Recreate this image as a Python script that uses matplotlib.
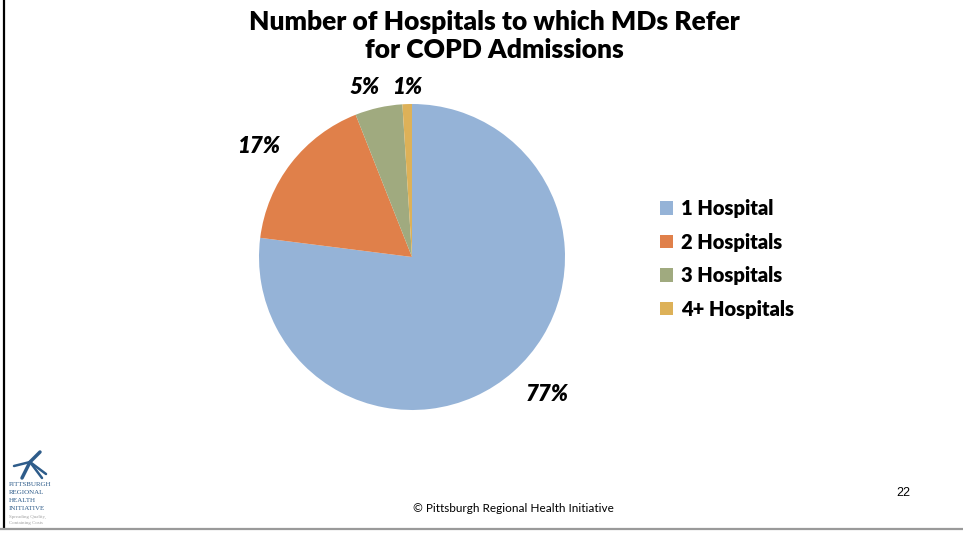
import matplotlib
matplotlib.use("Agg")
import matplotlib.pyplot as plt
from matplotlib.lines import Line2D
from matplotlib.patches import Patch
import numpy as np

# data
categories = ["1 Hospital", "2 Hospitals", "3 Hospitals", "4+ Hospitals"]
shares = [77, 17, 5, 1]
pct_labels = ["77%", "17%", "5%", "1%"]
colors = ["#95B3D7", "#E0804A", "#A0AA7F", "#DDB158"]

title = "Number of Hospitals to which MDs Refer\nfor COPD Admissions"
footer = "\u00a9 Pittsburgh Regional Health Initiative"
page_no = "22"

W, H = 963, 533
fig = plt.figure(figsize=(W / 100, H / 100), dpi=100)
fig.patch.set_facecolor("white")

# pie axes: centre (412, 257) px, radius 153 px
cx, cy, r = 412, 257, 153
ax = fig.add_axes([(cx - r) / W, (H - cy - r) / H, 2 * r / W, 2 * r / H])
wedges, _ = ax.pie(shares, colors=colors, startangle=90, counterclock=False,
                   wedgeprops=dict(linewidth=0))
ax.set_xlim(-1, 1)
ax.set_ylim(-1, 1)
ax.axis("off")

# percent labels outside each wedge (radius, angle nudge in degrees)
label_pos = [(1.26, 3), (1.24, 2), (1.15, 3), (1.11, 0)]
for w, txt, (rr, da) in zip(wedges, pct_labels, label_pos):
    mid = np.deg2rad((w.theta1 + w.theta2) / 2 + da)
    ax.text(rr * np.cos(mid), rr * np.sin(mid), txt, ha="center", va="center",
            fontsize=16, fontweight="heavy", fontstyle="italic",
            family=["Lato", "DejaVu Sans"], clip_on=False)

fig.text(494 / W, 1 - 36 / H, title, ha="center", va="center",
         fontsize=19, fontweight="heavy", family=["Lato", "DejaVu Sans"],
         linespacing=1.22)

handles = [Patch(facecolor=c, edgecolor="none") for c in colors]
fig.legend(handles, categories, loc="upper left",
           bbox_to_anchor=(652 / W, 1 - 191 / H), frameon=False,
           prop=dict(family=["Lato", "DejaVu Sans"], weight="heavy", size=14.5),
           handlelength=0.65, handleheight=0.65, handletextpad=0.4,
           labelspacing=0.72, borderaxespad=0)

fig.text(513 / W, 1 - 509 / H, footer, ha="center", va="center",
         fontsize=8.5, family=["Lato", "DejaVu Sans"])
fig.text(903 / W, 1 - 493 / H, page_no, ha="center", va="center",
         fontsize=9, family="Liberation Sans")

# slide frame: black left edge, grey bottom edge
fig.add_artist(Line2D([4 / W, 4 / W], [1 - 528 / H, 1], color="black", lw=1.6))
fig.add_artist(Line2D([0, 1], [1 - 529 / H, 1 - 529 / H], color="#9a9a9a", lw=1.6))

# small PRHI logo in the corner
logo_blue = "#2E5C8A"
fig.add_artist(Line2D([22 / W, 30 / W, 40 / W], [1 - 478 / H, 1 - 462 / H, 1 - 452 / H],
                      color=logo_blue, lw=2.5, solid_capstyle="round"))
fig.add_artist(Line2D([14 / W, 30 / W, 46 / W], [1 - 466 / H, 1 - 462 / H, 1 - 474 / H],
                      color=logo_blue, lw=1.8, solid_capstyle="round"))
fig.add_artist(Line2D([30 / W, 42 / W], [1 - 462 / H, 1 - 478 / H],
                      color=logo_blue, lw=1.8, solid_capstyle="round"))
for i, word in enumerate(["PITTSBURGH", "REGIONAL", "HEALTH", "INITIATIVE"]):
    fig.text(9 / W, 1 - (484 + 8 * i) / H, word, ha="left", va="center",
             fontsize=5, color=logo_blue, family="Liberation Serif")
for i, word in enumerate(["Spreading Quality,", "Containing Costs"]):
    fig.text(9 / W, 1 - (517 + 6 * i) / H, word, ha="left", va="center",
             fontsize=3.5, color="#a0a0a0", family="Liberation Serif")

fig.savefig("out.png", dpi=100, facecolor="white")
